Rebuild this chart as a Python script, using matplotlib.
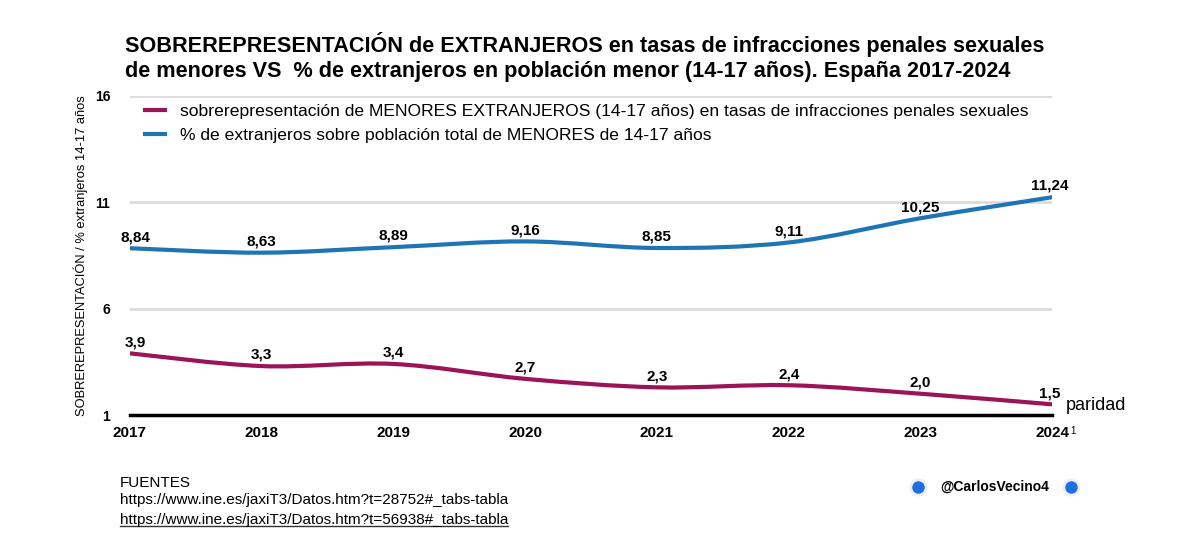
import matplotlib
matplotlib.use("Agg")
import numpy as np
import matplotlib.pyplot as plt
from matplotlib.path import Path
from matplotlib.patches import PathPatch
from matplotlib.lines import Line2D

plt.rcParams['font.family'] = ['Liberation Sans', 'DejaVu Sans']

years = [2017, 2018, 2019, 2020, 2021, 2022, 2023, 2024]
pct_extranjeros = [8.84, 8.63, 8.89, 9.16, 8.85, 9.11, 10.25, 11.24]
sobrerep = [3.9, 3.3, 3.4, 2.7, 2.3, 2.4, 2.0, 1.5]
pct_labels = ["8,84", "8,63", "8,89", "9,16", "8,85", "9,11", "10,25", "11,24"]
sobre_labels = ["3,9", "3,3", "3,4", "2,7", "2,3", "2,4", "2,0", "1,5"]
y_ticks = [1, 6, 11, 16]

COL_SOBRE = "#9c1458"
COL_PCT = "#1f74b5"


def smooth_path(xs, ys):
    """Curva suave (Catmull-Rom -> Bezier) que pasa por los puntos."""
    pts = np.column_stack([xs, ys]).astype(float)
    verts = [pts[0]]
    codes = [Path.MOVETO]
    n = len(pts)
    for i in range(n - 1):
        p0 = pts[i - 1] if i > 0 else pts[i]
        p1 = pts[i]
        p2 = pts[i + 1]
        p3 = pts[i + 2] if i + 2 < n else pts[i + 1]
        c1 = p1 + (p2 - p0) / 6.0
        c2 = p2 - (p3 - p1) / 6.0
        verts += [c1, c2, p2]
        codes += [Path.CURVE4] * 3
    return Path(verts, codes)


fig = plt.figure(figsize=(12, 5.48), dpi=100)
ax = fig.add_axes([0.108, 0.2427, 0.769, 0.5823])

for y in y_ticks[1:]:
    ax.axhline(y, color="#dcdcdc", lw=2, zorder=1)
ax.axhline(1, color="black", lw=2.5, zorder=2, clip_on=False)

for vals, col in [(pct_extranjeros, COL_PCT), (sobrerep, COL_SOBRE)]:
    patch = PathPatch(smooth_path(years, vals), facecolor="none", edgecolor=col,
                      lw=3, capstyle="butt", zorder=3)
    ax.add_patch(patch)

# etiquetas de datos (las de los extremos algo desplazadas hacia dentro)
dx = [4, 0, 0, 0, 0, 0, 0, -2]
for i, (x, v, t) in enumerate(zip(years, pct_extranjeros, pct_labels)):
    ax.annotate(t, (x, v), xytext=(dx[i], 3), textcoords="offset points",
                ha="center", va="bottom", fontsize=11, fontweight="bold", zorder=4)
for i, (x, v, t) in enumerate(zip(years, sobrerep, sobre_labels)):
    ax.annotate(t, (x, v), xytext=(dx[i], 3), textcoords="offset points",
                ha="center", va="bottom", fontsize=11, fontweight="bold", zorder=4)

ax.set_xlim(2017, 2024)
ax.set_ylim(1, 16)
ax.set_yticks(y_ticks)
ax.set_yticklabels([str(v) for v in y_ticks], fontsize=10, fontweight="bold")
ax.set_xticks(years)
ax.set_xticklabels([str(v) for v in years], fontsize=11, fontweight="bold")
ax.tick_params(axis="both", length=0)
ax.tick_params(axis="y", pad=14)
ax.tick_params(axis="x", pad=8)
for s in ax.spines.values():
    s.set_visible(False)

ax.set_ylabel("SOBREREPRESENTACIÓN / % extranjeros 14-17 años", fontsize=9.3, labelpad=5)

handles = [Line2D([0], [0], color=COL_SOBRE, lw=3),
           Line2D([0], [0], color=COL_PCT, lw=3)]
ax.legend(handles, ["sobrerepresentación de MENORES EXTRANJEROS (14-17 años) en tasas de infracciones penales sexuales",
                    "% de extranjeros sobre población total de MENORES de 14-17 años"],
          loc="upper left", bbox_to_anchor=(0.0, 1.025), frameon=False, fontsize=12.6,
          handlelength=1.1, handletextpad=0.9, labelspacing=0.5)

fig.text(0.104, 0.85, "SOBREREPRESENTACIÓN de EXTRANJEROS en tasas de infracciones penales sexuales\n"
         "de menores VS  % de extranjeros en población menor (14-17 años). España 2017-2024",
         fontsize=15.6, fontweight="bold", ha="left", va="bottom", linespacing=1.28)

ax.annotate("paridad", (2024, 1), xytext=(10, 1), textcoords="offset points",
            ha="left", va="bottom", fontsize=13, annotation_clip=False)
ax.annotate("1", (2024, 1), xytext=(13, -15), textcoords="offset points",
            ha="left", va="bottom", fontsize=7, annotation_clip=False)

fig.text(0.1, 0.118, "FUENTES", fontsize=11, ha="left", va="center")
fig.text(0.1, 0.087, "https://www.ine.es/jaxiT3/Datos.htm?t=28752#_tabs-tabla", fontsize=11,
         ha="left", va="center")
link2 = fig.text(0.1, 0.051, "https://www.ine.es/jaxiT3/Datos.htm?t=56938#_tabs-tabla", fontsize=11,
                 ha="left", va="center")

fig.text(0.829, 0.111, "@CarlosVecino4", fontsize=10, fontweight="bold", ha="center", va="center")
for xd in [0.765, 0.8925]:
    fig.add_artist(Line2D([xd], [0.111], marker="o", markersize=11, color="#1f6fe0",
                          markeredgecolor="#eeeeee", markeredgewidth=2, transform=fig.transFigure))

fig.canvas.draw()
bb = link2.get_window_extent(fig.canvas.get_renderer()).transformed(fig.transFigure.inverted())
fig.add_artist(Line2D([bb.x0, bb.x1], [bb.y0 + 0.002, bb.y0 + 0.002], color="#333333", lw=1,
                      transform=fig.transFigure))

fig.savefig("out.png", dpi=100, facecolor="white")
